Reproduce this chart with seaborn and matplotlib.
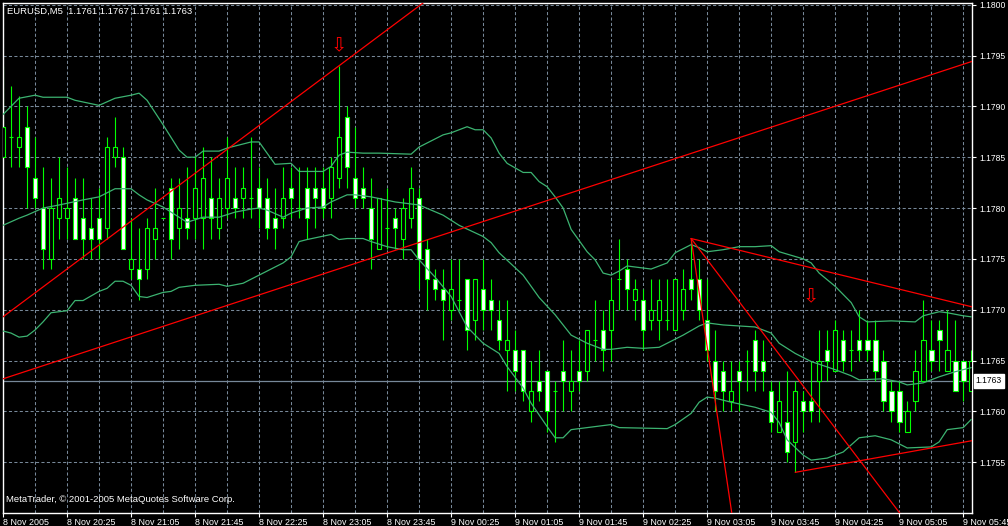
import numpy as np
import pandas as pd
import seaborn as sns
import matplotlib.pyplot as plt
from matplotlib.transforms import blended_transform_factory

# --- chart data ---
symbol = "EURUSD,M5"
header_ohlc = ["1.1761", "1.1767", "1.1761", "1.1763"]
bid = 1.1763

opens = [1.1785, 1.1787, 1.1786, 1.1788, 1.1783, 1.1780, 1.1775, 1.1779, 1.1779, 1.1781,
         1.1779, 1.1778, 1.1779, 1.1778, 1.1785, 1.1785, 1.1774, 1.1774, 1.1774, 1.1777,
         1.1779, 1.1782, 1.1778, 1.1779, 1.1779, 1.1779, 1.1781, 1.1778, 1.1780, 1.1781,
         1.1781, 1.1781, 1.1782, 1.1781, 1.1779, 1.1779, 1.1782, 1.1780, 1.1782, 1.1782,
         1.1782, 1.1781, 1.1783, 1.1789, 1.1783, 1.1782, 1.1780, 1.1776, 1.1778, 1.1779,
         1.1777, 1.1779, 1.1781, 1.1776, 1.1773, 1.1772, 1.1770, 1.1771, 1.1773, 1.1769,
         1.1772, 1.1771, 1.1769, 1.1766, 1.1766, 1.1766, 1.1760, 1.1763, 1.1764, 1.1762,
         1.1764, 1.1762, 1.1764, 1.1764, 1.1767, 1.1768, 1.1768, 1.1773, 1.1774, 1.1771,
         1.1771, 1.1769, 1.1769, 1.1769, 1.1768, 1.1770, 1.1773, 1.1773, 1.1769, 1.1765,
         1.1764, 1.1761, 1.1764, 1.1765, 1.1767, 1.1765, 1.1762, 1.1758, 1.1759, 1.1757,
         1.1761, 1.1761, 1.1763, 1.1766, 1.1764, 1.1767, 1.1766, 1.1767, 1.1767, 1.1767,
         1.1765, 1.1762, 1.1762, 1.1758, 1.1761, 1.1763, 1.1766, 1.1768, 1.1764, 1.1765,
         1.1765, 1.1762]
highs = [1.1794, 1.1792, 1.1791, 1.1790, 1.1787, 1.1784, 1.1783, 1.1785, 1.1784, 1.1783,
         1.1783, 1.1781, 1.1782, 1.1787, 1.1789, 1.1786, 1.1779, 1.1778, 1.1779, 1.1782,
         1.1779, 1.1783, 1.1783, 1.1784, 1.1785, 1.1786, 1.1785, 1.1783, 1.1787, 1.1784,
         1.1784, 1.1787, 1.1784, 1.1783, 1.1782, 1.1784, 1.1784, 1.1784, 1.1784, 1.1784,
         1.1784, 1.1785, 1.1794, 1.1790, 1.1788, 1.1784, 1.1783, 1.1781, 1.1782, 1.1780,
         1.1781, 1.1784, 1.1782, 1.1777, 1.1774, 1.1774, 1.1775, 1.1775, 1.1773, 1.1773,
         1.1775, 1.1773, 1.1771, 1.1771, 1.1768, 1.1766, 1.1765, 1.1766, 1.1764, 1.1763,
         1.1767, 1.1766, 1.1767, 1.1768, 1.1771, 1.1770, 1.1773, 1.1777, 1.1775, 1.1773,
         1.1772, 1.1773, 1.1773, 1.1773, 1.1773, 1.1774, 1.1777, 1.1775, 1.1773, 1.1768,
         1.1765, 1.1765, 1.1765, 1.1766, 1.1768, 1.1767, 1.1763, 1.1763, 1.1764, 1.1763,
         1.1762, 1.1765, 1.1768, 1.1768, 1.1769, 1.1768, 1.1768, 1.1770, 1.1769, 1.1769,
         1.1766, 1.1763, 1.1763, 1.1761, 1.1766, 1.1771, 1.1769, 1.1769, 1.1770, 1.1769,
         1.1765, 1.1766]
lows = [1.1785, 1.1784, 1.1784, 1.1780, 1.1780, 1.1774, 1.1774, 1.1777, 1.1777, 1.1777,
        1.1775, 1.1775, 1.1775, 1.1777, 1.1784, 1.1776, 1.1773, 1.1771, 1.1773, 1.1775,
        1.1779, 1.1775, 1.1776, 1.1777, 1.1777, 1.1776, 1.1777, 1.1777, 1.1779, 1.1779,
        1.1779, 1.1779, 1.1778, 1.1777, 1.1776, 1.1778, 1.1779, 1.1779, 1.1777, 1.1778,
        1.1779, 1.1779, 1.1782, 1.1782, 1.1780, 1.1780, 1.1774, 1.1776, 1.1776, 1.1776,
        1.1775, 1.1778, 1.1772, 1.1770, 1.1771, 1.1767, 1.1769, 1.1770, 1.1766, 1.1767,
        1.1768, 1.1768, 1.1766, 1.1762, 1.1762, 1.1761, 1.1759, 1.1761, 1.1758, 1.1757,
        1.1760, 1.1760, 1.1762, 1.1763, 1.1765, 1.1764, 1.1765, 1.1770, 1.1770, 1.1769,
        1.1766, 1.1768, 1.1767, 1.1768, 1.1768, 1.1769, 1.1771, 1.1769, 1.1765, 1.1760,
        1.1760, 1.1760, 1.1760, 1.1762, 1.1762, 1.1762, 1.1758, 1.1758, 1.1755, 1.1754,
        1.1758, 1.1759, 1.1759, 1.1763, 1.1764, 1.1764, 1.1764, 1.1765, 1.1765, 1.1763,
        1.1760, 1.1759, 1.1758, 1.1758, 1.1760, 1.1763, 1.1764, 1.1764, 1.1764, 1.1762,
        1.1761, 1.1762]
closes = [1.1788, 1.1787, 1.1787, 1.1784, 1.1781, 1.1776, 1.1780, 1.1781, 1.1780, 1.1777,
          1.1777, 1.1777, 1.1777, 1.1786, 1.1786, 1.1776, 1.1775, 1.1773, 1.1778, 1.1778,
          1.1779, 1.1777, 1.1780, 1.1778, 1.1782, 1.1783, 1.1779, 1.1781, 1.1783, 1.1780,
          1.1782, 1.1781, 1.1780, 1.1778, 1.1778, 1.1781, 1.1781, 1.1780, 1.1779, 1.1781,
          1.1780, 1.1784, 1.1787, 1.1784, 1.1781, 1.1781, 1.1777, 1.1781, 1.1778, 1.1778,
          1.1780, 1.1782, 1.1775, 1.1773, 1.1772, 1.1771, 1.1772, 1.1771, 1.1768, 1.1773,
          1.1770, 1.1770, 1.1767, 1.1767, 1.1764, 1.1762, 1.1762, 1.1762, 1.1760, 1.1762,
          1.1763, 1.1763, 1.1763, 1.1768, 1.1767, 1.1766, 1.1771, 1.1773, 1.1772, 1.1772,
          1.1768, 1.1770, 1.1771, 1.1769, 1.1773, 1.1772, 1.1772, 1.1770, 1.1766, 1.1762,
          1.1762, 1.1762, 1.1763, 1.1765, 1.1764, 1.1764, 1.1759, 1.1761, 1.1756, 1.1762,
          1.1760, 1.1760, 1.1765, 1.1765, 1.1768, 1.1765, 1.1766, 1.1766, 1.1766, 1.1764,
          1.1761, 1.1760, 1.1759, 1.1760, 1.1764, 1.1767, 1.1765, 1.1767, 1.1766, 1.1762,
          1.1763, 1.1765]

time_labels = ["8 Nov 2005", "8 Nov 20:25", "8 Nov 21:05", "8 Nov 21:45", "8 Nov 22:25",
               "8 Nov 23:05", "8 Nov 23:45", "9 Nov 00:25", "9 Nov 01:05", "9 Nov 01:45",
               "9 Nov 02:25", "9 Nov 03:05", "9 Nov 03:45", "9 Nov 04:25", "9 Nov 05:05",
               "9 Nov 05:45"]
price_ticks = [1.1755, 1.1760, 1.1765, 1.1770, 1.1775, 1.1780, 1.1785, 1.1790, 1.1795, 1.1800]

# Bollinger bands, vertices (bar index, price)
upper_bars = [0, 2, 4, 5, 8, 9, 12, 14, 16, 17, 18, 20, 22, 23, 24, 25, 27, 28, 31, 32,
              34, 36, 37, 40, 41, 42, 43, 45, 47, 51, 52, 55, 56, 58, 59, 60, 61, 62, 63, 65,
              66, 67, 68, 69, 70, 71, 73, 74, 75, 76, 77, 78, 80, 81, 83, 84, 86, 87, 88, 90,
              92, 94, 96, 97, 100, 101, 102, 104, 106, 107, 108, 111, 114, 115, 117, 118, 120, 121]
upper_vals = [1.17892, 1.17908, 1.17911, 1.17909, 1.17909, 1.17906, 1.17901, 1.17908, 1.17911, 1.17913,
              1.17906, 1.17882, 1.17857, 1.17850, 1.17850, 1.17856, 1.17856, 1.17859, 1.17865, 1.17865,
              1.17843, 1.17844, 1.17836, 1.17836, 1.17841, 1.17852, 1.17855, 1.17854, 1.17854, 1.17853,
              1.17860, 1.17872, 1.17874, 1.17880, 1.17877, 1.17877, 1.17869, 1.17854, 1.17844, 1.17835,
              1.17835, 1.17826, 1.17821, 1.17811, 1.17800, 1.17779, 1.17757, 1.17749, 1.17736, 1.17734,
              1.17738, 1.17743, 1.17741, 1.17740, 1.17746, 1.17756, 1.17764, 1.17761, 1.17757, 1.17759,
              1.17762, 1.17762, 1.17763, 1.17757, 1.17750, 1.17746, 1.17736, 1.17723, 1.17707, 1.17693,
              1.17688, 1.17689, 1.17688, 1.17694, 1.17698, 1.17697, 1.17694, 1.17693]
middle_bars = [0, 2, 3, 5, 7, 10, 12, 14, 16, 17, 18, 20, 22, 23, 25, 27, 29, 31, 32, 33,
               35, 36, 38, 40, 41, 43, 44, 46, 49, 52, 55, 57, 60, 61, 62, 65, 67, 69, 70, 71,
               73, 75, 76, 78, 80, 82, 83, 85, 87, 88, 90, 94, 96, 97, 99, 101, 104, 106, 107, 110,
               112, 113, 115, 117, 119, 121]
middle_vals = [1.17783, 1.17790, 1.17793, 1.17800, 1.17803, 1.17808, 1.17811, 1.17819, 1.17819, 1.17813,
               1.17808, 1.17801, 1.17791, 1.17786, 1.17791, 1.17791, 1.17796, 1.17799, 1.17800, 1.17798,
               1.17791, 1.17795, 1.17800, 1.17801, 1.17806, 1.17813, 1.17813, 1.17811, 1.17806, 1.17803,
               1.17793, 1.17783, 1.17772, 1.17766, 1.17756, 1.17734, 1.17712, 1.17695, 1.17685, 1.17675,
               1.17667, 1.17661, 1.17661, 1.17663, 1.17662, 1.17663, 1.17667, 1.17675, 1.17684, 1.17687,
               1.17685, 1.17683, 1.17677, 1.17667, 1.17657, 1.17649, 1.17641, 1.17635, 1.17631, 1.17632,
               1.17629, 1.17626, 1.17628, 1.17634, 1.17639, 1.17643]
lower_bars = [0, 1, 2, 3, 4, 5, 6, 8, 9, 10, 12, 13, 14, 15, 16, 17, 18, 20, 21, 22,
              24, 27, 28, 30, 32, 35, 36, 37, 38, 41, 42, 43, 45, 46, 48, 50, 51, 52, 54, 56,
              58, 60, 62, 63, 65, 66, 68, 69, 70, 71, 73, 76, 77, 83, 84, 86, 87, 88, 89, 91,
              94, 96, 97, 98, 100, 101, 103, 105, 107, 109, 111, 113, 116, 117, 118, 120, 121]
lower_vals = [1.17679, 1.17677, 1.17673, 1.17674, 1.17680, 1.17688, 1.17697, 1.17699, 1.17709, 1.17709,
              1.17718, 1.17721, 1.17728, 1.17728, 1.17724, 1.17713, 1.17712, 1.17717, 1.17718, 1.17722,
              1.17724, 1.17725, 1.17723, 1.17726, 1.17734, 1.17746, 1.17752, 1.17767, 1.17769, 1.17774,
              1.17769, 1.17770, 1.17770, 1.17767, 1.17762, 1.17759, 1.17759, 1.17749, 1.17732, 1.17713,
              1.17683, 1.17667, 1.17657, 1.17644, 1.17623, 1.17608, 1.17585, 1.17574, 1.17574, 1.17582,
              1.17584, 1.17587, 1.17584, 1.17583, 1.17587, 1.17598, 1.17609, 1.17614, 1.17613, 1.17609,
              1.17604, 1.17599, 1.17589, 1.17572, 1.17557, 1.17552, 1.17554, 1.17560, 1.17574, 1.17576,
              1.17572, 1.17564, 1.17565, 1.17570, 1.17582, 1.17584, 1.17592]

# red trend lines: two anchor points (bar, price); "both" extends both ways, "right" is a ray
trend_starts = [(0, 1.17693), (0, 1.17632), (86, 1.1777), (86, 1.1777), (86, 1.1777), (99, 1.1754)]
trend_ends = [(42, 1.1794), (121, 1.17944), (121, 1.17703), (91, 1.17504), (111, 1.17511), (121, 1.17571)]
trend_modes = ["both", "both", "right", "right", "right", "right"]

arrow_bars = [42, 101]
arrow_prices = [1.17960, 1.17713]

# --- drawing ---
sns.set_theme(style="dark", rc={
    "figure.facecolor": "black", "axes.facecolor": "black",
    "axes.edgecolor": "white", "text.color": "white",
    "xtick.color": "white", "ytick.color": "white",
})
plt.rcParams["font.family"] = ["Liberation Sans", "DejaVu Sans"]

W, H = 1008, 526
fig = plt.figure(figsize=(W / 100, H / 100), dpi=100)
left, right, top, bottom = 2.7, 972, 2.7, 513
ax = fig.add_axes([left / W, 1 - bottom / H, (right - left) / W, (bottom - top) / H])

lime = "#00ff00"
band_color = "#3cb371"
grid_color = "#778899"

bars = np.arange(len(closes))
o = np.array(opens)
c = np.array(closes)

ax.vlines(bars, lows, highs, colors=lime, linewidth=0.8, zorder=2)
fills = np.where(c < o, "white", "black")
ax.bar(bars, np.abs(c - o), bottom=np.minimum(o, c), width=0.58, color=fills,
       edgecolor=lime, linewidth=0.8, zorder=3)

bands = pd.concat([
    pd.DataFrame({"bar": upper_bars, "price": upper_vals, "band": "upper"}),
    pd.DataFrame({"bar": middle_bars, "price": middle_vals, "band": "middle"}),
    pd.DataFrame({"bar": lower_bars, "price": lower_vals, "band": "lower"}),
])
sns.lineplot(data=bands, x="bar", y="price", hue="band", palette=[band_color] * 3,
             estimator=None, legend=False, linewidth=0.9, ax=ax, zorder=4)

xmin, xmax = -0.04, 121.1
for (x0, y0), (x1, y1), mode in zip(trend_starts, trend_ends, trend_modes):
    if mode == "both":
        ax.axline((x0, y0), (x1, y1), color="red", linewidth=0.9, zorder=5)
    else:
        slope = (y1 - y0) / (x1 - x0)
        ax.plot([x0, xmax + 2], [y0, y0 + slope * (xmax + 2 - x0)], color="red",
                linewidth=0.9, zorder=5)

ax.axhline(bid, color=grid_color, linewidth=0.9, zorder=1.5)

for b, p in zip(arrow_bars, arrow_prices):
    ax.text(b, p, "\u21e9", color="red", fontsize=14, ha="center", va="center",
            family=["DejaVu Sans"], zorder=6)

ax.set_xlim(xmin, xmax)
ax.set_ylim(1.1750, 1.18002)
ax.set_xlabel("")
ax.set_ylabel("")

ax.set_xticks(range(0, 8 * len(time_labels), 8))
ax.set_xticklabels(time_labels, ha="left")
ax.set_xticks(range(0, 122, 4), minor=True)
ax.set_yticks(price_ticks)
ax.set_yticklabels([f"{p:.4f}" for p in price_ticks])

ax.yaxis.tick_right()
ax.tick_params(axis="y", which="major", right=True, left=False, labelright=True,
               labelleft=False, length=3, width=0.8, pad=2, labelsize=6.2)
ax.tick_params(axis="x", which="major", bottom=True, length=3, width=0.8, pad=0.5,
               labelsize=6.4)
ax.tick_params(which="minor", length=0)

dash = (0, (3, 2.2))
ax.grid(False)
ax.grid(True, axis="x", which="both", color=grid_color, linestyle=dash, linewidth=0.75)
ax.grid(True, axis="y", which="major", color=grid_color, linestyle=dash, linewidth=0.75)
ax.set_axisbelow(True)

for s in ax.spines.values():
    s.set_color("white")
    s.set_linewidth(1.0)
    s.set_visible(True)

tr = blended_transform_factory(ax.transAxes, ax.transData)
ax.text(1.004, bid, f"{bid:.4f}", transform=tr, ha="left", va="center", fontsize=6.2,
        color="black", zorder=7,
        bbox=dict(boxstyle="square,pad=0.25", fc="white", ec="white"), clip_on=False)

fig.text(7 / W, 1 - 11 / H, symbol + "  " + " ".join(header_ohlc), color="white",
         fontsize=6.8, ha="left", va="center")
fig.text(6 / W, 1 - 500 / H, "MetaTrader, \u00a9 2001-2005 MetaQuotes Software Corp.",
         color="white", fontsize=6.8, ha="left", va="center")

fig.savefig("out.png", dpi=100, facecolor="black")
